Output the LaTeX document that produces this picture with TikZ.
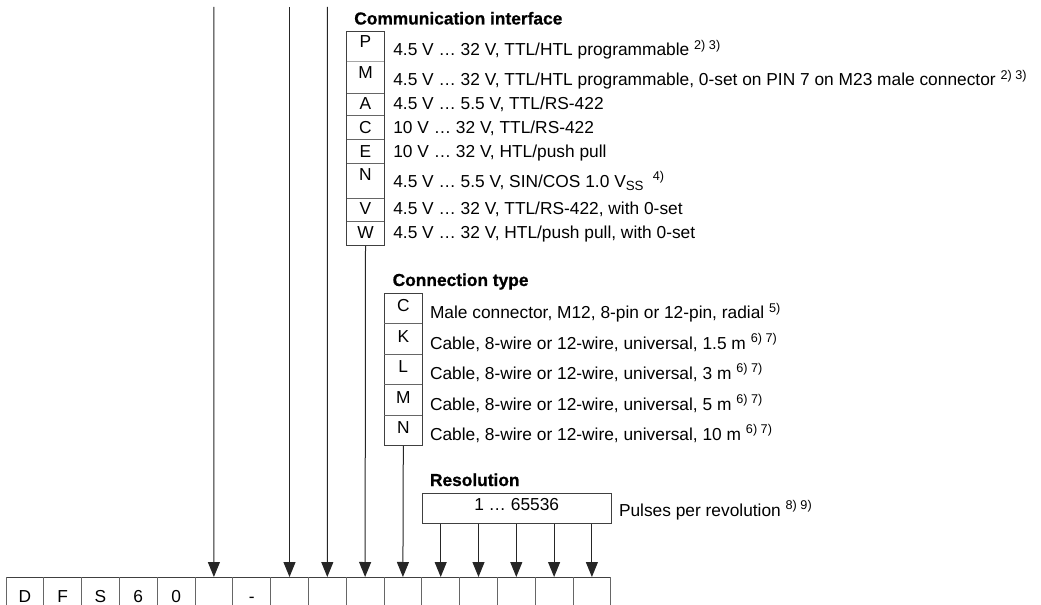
\documentclass[tikz,border=0pt]{standalone}
\usepackage{fontspec}
\setmainfont{Liberation Sans}
\newfontfamily\headfont[FakeBold=0.8]{Liberation Sans}
\usetikzlibrary{arrows.meta}
\newcommand\supr[1]{\raisebox{5pt}{\fontsize{9.5}{11}\selectfont #1}}
\newcommand\subr[1]{\raisebox{-2.5pt}{\fontsize{10}{11}\selectfont #1}}
\begin{document}
\begin{tikzpicture}[x=0.75pt,y=-0.75pt,
  every node/.style={inner sep=0pt, outer sep=0pt},
  desc/.style={anchor=base west, font=\fontsize{13}{15}\selectfont},
  letter/.style={anchor=base, font=\fontsize{13}{15}\selectfont},
  heading/.style={anchor=base west, font=\fontsize{13}{15}\headfont\bfseries\selectfont},
  frame/.style={draw=black!75, line width=0.75pt},
  sep/.style={draw=black!60, line width=0.75pt},
  arr/.style={draw=black!85, line width=0.75pt, -{Triangle[length=11.25pt,width=9pt]}}
]
\useasboundingbox (0,0) rectangle (1041,605);

% ---------- bottom type code cells ----------
\foreach \i in {1,...,16} {
  \coordinate (t\i) at ({6+(\i-0.5)*37.8},577);
}
\draw[frame] (6,577) -- (611,577);
\foreach \i in {0,...,16} {
  \draw[sep] ({6+\i*37.8},577) -- ({6+\i*37.8},606);
}
\node[letter] (dD) at ([yshift=-25*0.75pt]t1) {D};
\node[letter] (dF) at ([yshift=-25*0.75pt]t2) {F};
\node[letter] (dS) at ([yshift=-25*0.75pt]t3) {S};
\node[letter] (d6) at ([yshift=-25*0.75pt]t4) {6};
\node[letter] (d0) at ([yshift=-25*0.75pt]t5) {0};
\node[letter] (dh) at ([yshift=-25*0.75pt]t7) {-};

% ---------- long lines from top ----------
\coordinate (s6) at (213.9,7);
\coordinate (s8) at (289.5,7);
\coordinate (s9) at (327.3,7);
\draw[arr] (s6) -- (t6);
\draw[arr] (s8) -- (t8);
\draw[arr] (s9) -- (t9);

% ---------- Communication interface ----------
\node[heading] (commtitle) at (354.3,24.5) {Communication interface};
\node[frame, draw, minimum width=28.2pt, minimum height=160.7pt, anchor=north west] (commbox) at (346.7,31.7) {};
\draw[draw=black!35, line width=0.75pt] (346.7,61.7) -- (384.3,61.7);
\foreach \y in {93.3,116,140,164,198.3,221.7} {
  \draw[sep] (346.7,\y) -- (384.3,\y);
}
\node[letter] (cP) at (365.5,47.5) {P};
\node[letter] (cM) at (365.5,78.5) {M};
\node[letter] (cA) at (365.5,110) {A};
\node[letter] (cC) at (365.5,133.5) {C};
\node[letter] (cE) at (365.5,157.5) {E};
\node[letter] (cN) at (365.5,181) {N};
\node[letter] (cV) at (365.5,215) {V};
\node[letter] (cW) at (365.5,239) {W};
\node[desc] (tP) at (393.3,56) {4.5 V … 32 V, TTL/HTL programmable \supr{2) 3)}};
\node[desc] (tM) at (393.3,86) {4.5 V … 32 V, TTL/HTL programmable, 0-set on PIN 7 on M23 male connector \supr{2) 3)}};
\node[desc] (tA) at (393.3,110) {4.5 V … 5.5 V, TTL/RS-422};
\node[desc] (tC) at (393.3,133.5) {10 V … 32 V, TTL/RS-422};
\node[desc] (tE) at (393.3,157.5) {10 V … 32 V, HTL/push pull};
\node[desc] (tN) at (393.3,187.5) {4.5 V … 5.5 V, SIN/COS 1.0 V\subr{SS}\hspace{7pt}\supr{4)}};
\node[desc] (tV) at (393.3,215) {4.5 V … 32 V, TTL/RS-422, with 0-set};
\node[desc] (tW) at (393.3,239) {4.5 V … 32 V, HTL/push pull, with 0-set};
\draw[arr] (commbox.south) -- (t10);

% ---------- Connection type ----------
\node[heading] (conntitle) at (392.7,286) {Connection type};
\node[frame, draw, minimum width=28.5pt, minimum height=114.5pt, anchor=north west] (connbox) at (384.3,293.3) {};
\foreach \y in {324,354.3,385,415} {
  \draw[sep] (384.3,\y) -- (422.3,\y);
}
\node[letter] (kC) at (403.3,311.6) {C};
\node[letter] (kK) at (403.3,342.3) {K};
\node[letter] (kL) at (403.3,372.6) {L};
\node[letter] (kM) at (403.3,403.3) {M};
\node[letter] (kN) at (403.3,433.3) {N};
\node[desc] (uC) at (430,319) {Male connector, M12, 8-pin or 12-pin, radial \supr{5)}};
\node[desc] (uK) at (430,349.3) {Cable, 8-wire or 12-wire, universal, 1.5 m \supr{6) 7)}};
\node[desc] (uL) at (430,379.6) {Cable, 8-wire or 12-wire, universal, 3 m \supr{6) 7)}};
\node[desc] (uM) at (430,410.3) {Cable, 8-wire or 12-wire, universal, 5 m \supr{6) 7)}};
\node[desc] (uN) at (430,440) {Cable, 8-wire or 12-wire, universal, 10 m \supr{6) 7)}};
\draw[arr] (connbox.south) -- (t11);

% ---------- Resolution ----------
\node[heading] (restitle) at (430,486) {Resolution};
\node[frame, draw, minimum width=141.75pt, minimum height=22.9pt, anchor=north west] (res) at (422.3,493.3) {};
\node[letter] (resval) at (516.7,510) {1 … 65536};
\node[desc] (pulses) at (619,516) {Pulses per revolution \supr{8) 9)}};
\foreach \i in {12,...,16} {
  \draw[arr] (res.south -| t\i) -- (t\i);
}
\end{tikzpicture}
\end{document}
